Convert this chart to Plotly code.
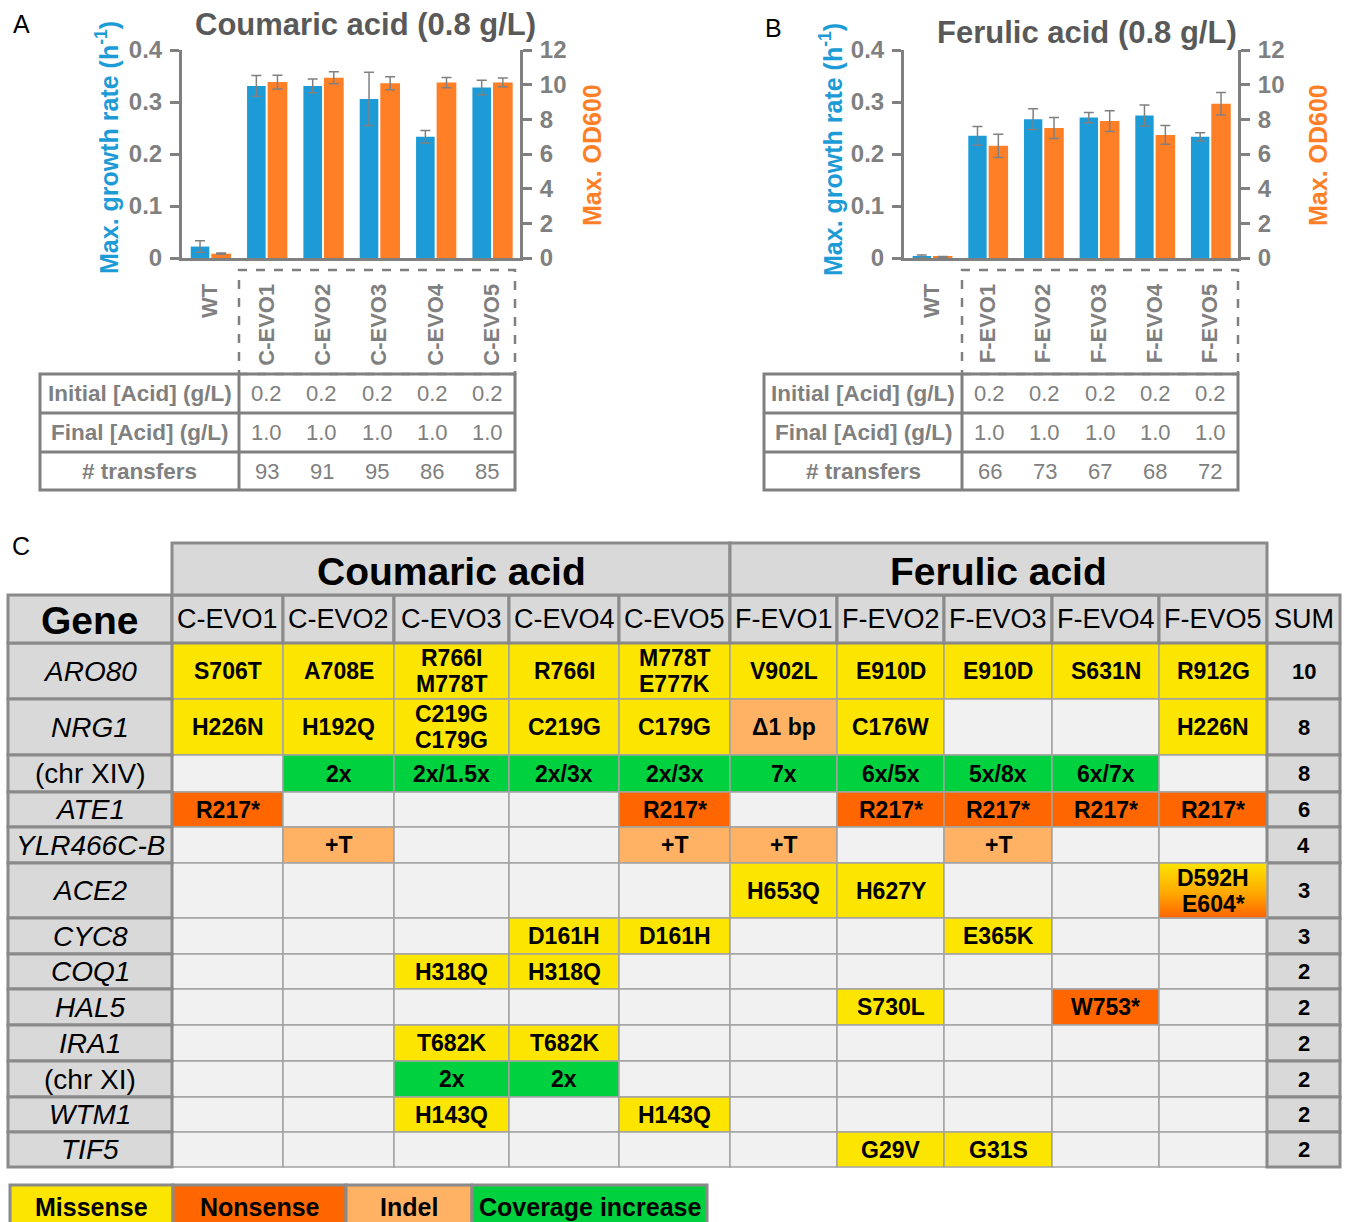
import plotly.graph_objects as go

W, H = 1349, 1222
FONT = "Liberation Sans, Arial, Helvetica, sans-serif"
BLUE = "#1C9BD6"
ORANGE = "#FF7F27"
GRAY = "#808080"
TITLE_GRAY = "#595959"

# ---------------- data: panels A / B ----------------
strains_A = ["WT", "C-EVO1", "C-EVO2", "C-EVO3", "C-EVO4", "C-EVO5"]
growth_A = [0.022, 0.331, 0.331, 0.306, 0.233, 0.328]
growth_A_err = [0.011, 0.020, 0.013, 0.051, 0.012, 0.014]
od_A = [0.25, 10.15, 10.40, 10.08, 10.12, 10.13]
od_A_err = [0.04, 0.40, 0.35, 0.38, 0.30, 0.25]

strains_B = ["WT", "F-EVO1", "F-EVO2", "F-EVO3", "F-EVO4", "F-EVO5"]
growth_B = [0.003, 0.235, 0.267, 0.270, 0.274, 0.233]
growth_B_err = [0.003, 0.018, 0.020, 0.010, 0.020, 0.008]
od_B = [0.06, 6.47, 7.50, 7.90, 7.10, 8.90]
od_B_err = [0.02, 0.67, 0.60, 0.60, 0.54, 0.65]

growth_ticks = [0, 0.1, 0.2, 0.3, 0.4]
growth_tick_labels = ["0", "0.1", "0.2", "0.3", "0.4"]
od_ticks = [0, 2, 4, 6, 8, 10, 12]
od_tick_labels = ["0", "2", "4", "6", "8", "10", "12"]

small_table_rows = ["Initial [Acid] (g/L)", "Final [Acid] (g/L)", "# transfers"]
initial_A = [0.2, 0.2, 0.2, 0.2, 0.2]
final_A = [1.0, 1.0, 1.0, 1.0, 1.0]
transfers_A = [93, 91, 95, 86, 85]
initial_B = [0.2, 0.2, 0.2, 0.2, 0.2]
final_B = [1.0, 1.0, 1.0, 1.0, 1.0]
transfers_B = [66, 73, 67, 68, 72]

# ---------------- data: panel C ----------------
groups_C = ["Coumaric acid", "Ferulic acid"]
strains_C = ["C-EVO1", "C-EVO2", "C-EVO3", "C-EVO4", "C-EVO5",
             "F-EVO1", "F-EVO2", "F-EVO3", "F-EVO4", "F-EVO5"]
genes_C = ["ARO80", "NRG1", "(chr XIV)", "ATE1", "YLR466C-B", "ACE2", "CYC8",
           "COQ1", "HAL5", "IRA1", "(chr XI)", "WTM1", "TIF5"]
gene_italic = [True, True, False, True, True, True, True, True, True, True, False, True, True]
sums_C = [10, 8, 8, 6, 4, 3, 3, 2, 2, 2, 2, 2, 2]
mut_text = [
    ["S706T", "A708E", "R766I<br>M778T", "R766I", "M778T<br>E777K", "V902L", "E910D", "E910D", "S631N", "R912G"],
    ["H226N", "H192Q", "C219G<br>C179G", "C219G", "C179G", "Δ1 bp", "C176W", "", "", "H226N"],
    ["", "2x", "2x/1.5x", "2x/3x", "2x/3x", "7x", "6x/5x", "5x/8x", "6x/7x", ""],
    ["R217*", "", "", "", "R217*", "", "R217*", "R217*", "R217*", "R217*"],
    ["", "+T", "", "", "+T", "+T", "", "+T", "", ""],
    ["", "", "", "", "", "H653Q", "H627Y", "", "", "D592H<br>E604*"],
    ["", "", "", "D161H", "D161H", "", "", "E365K", "", ""],
    ["", "", "H318Q", "H318Q", "", "", "", "", "", ""],
    ["", "", "", "", "", "", "S730L", "", "W753*", ""],
    ["", "", "T682K", "T682K", "", "", "", "", "", ""],
    ["", "", "2x", "2x", "", "", "", "", "", ""],
    ["", "", "H143Q", "", "H143Q", "", "", "", "", ""],
    ["", "", "", "", "", "", "G29V", "G31S", "", ""],
]
mut_type = [
    ["M", "M", "M", "M", "M", "M", "M", "M", "M", "M"],
    ["M", "M", "M", "M", "M", "I", "M", "", "", "M"],
    ["", "C", "C", "C", "C", "C", "C", "C", "C", ""],
    ["N", "", "", "", "N", "", "N", "N", "N", "N"],
    ["", "I", "", "", "I", "I", "", "I", "", ""],
    ["", "", "", "", "", "M", "M", "", "", "MN"],
    ["", "", "", "M", "M", "", "", "M", "", ""],
    ["", "", "M", "M", "", "", "", "", "", ""],
    ["", "", "", "", "", "", "M", "", "N", ""],
    ["", "", "M", "M", "", "", "", "", "", ""],
    ["", "", "C", "C", "", "", "", "", "", ""],
    ["", "", "M", "", "M", "", "", "", "", ""],
    ["", "", "", "", "", "", "M", "M", "", ""],
]
legend_labels = ["Missense", "Nonsense", "Indel", "Coverage increase"]
legend_types = ["M", "N", "I", "C"]

TYPE_COLORS = {"M": "#FCE500", "N": "#FF6600", "I": "#FFB263", "C": "#00D13F", "": "#F1F1F1"}

# ---------------- layout constants (pixels) ----------------
A_X = (182, 520)
B_X = (904, 1238)
CH_Y = (50, 258)
TBL_A_X = (40, 239, 515)
TBL_B_X = (764, 962, 1238)
TBL_Y = [374, 413, 452, 490]
DASH_TOP = 270
COL_C = [8, 172, 283, 394, 509, 619, 730, 837, 944, 1052, 1159, 1267, 1340]
ROW_C = [595, 643, 699, 755, 792, 827, 863, 918, 954, 989, 1025, 1061, 1097, 1132, 1167]
HDR_TOP = 543
LEG_X = [10, 173, 346, 472, 707]
LEG_Y = (1185, 1230)
LINE_GAP = 26


def px(x):
    return x / W


def py(y):
    return 1 - y / H


fig = go.Figure()


def ann(x, y, text, size, color="black", bold=False, italic=False, angle=0, xanchor="center"):
    t = text
    if italic:
        t = f"<i>{t}</i>"
    if bold:
        t = f"<b>{t}</b>"
    fig.add_annotation(x=px(x), y=py(y), xref="paper", yref="paper", text=t, showarrow=False,
                       font=dict(family=FONT, size=size, color=color), textangle=angle,
                       xanchor=xanchor, yanchor="middle")


def rect(x0, y0, x1, y1, fill=None, lc=GRAY, lw=3, dash=None, layer="below"):
    line = dict(color=lc, width=lw)
    if dash:
        line["dash"] = dash
    fig.add_shape(type="rect", xref="paper", yref="paper", x0=px(x0), x1=px(x1),
                  y0=py(y1), y1=py(y0), fillcolor=fill if fill else "rgba(0,0,0,0)",
                  line=line, layer=layer)


def hline(x0, x1, y, lc=GRAY, lw=3):
    fig.add_shape(type="line", xref="paper", yref="paper", x0=px(x0), x1=px(x1),
                  y0=py(y), y1=py(y), line=dict(color=lc, width=lw), layer="below")


def vline(x, y0, y1, lc=GRAY, lw=3):
    fig.add_shape(type="line", xref="paper", yref="paper", x0=px(x), x1=px(x),
                  y0=py(y0), y1=py(y1), line=dict(color=lc, width=lw), layer="below")


# ---------------- bar charts ----------------
def add_bars(xa, yl, yr, cats, g, ge, od, oe):
    fig.add_trace(go.Bar(x=cats, y=g, xaxis=xa, yaxis=yl, width=0.33, offset=-0.345,
                         marker=dict(color=BLUE, line=dict(width=0)), showlegend=False,
                         error_y=dict(type="data", array=ge, color=GRAY, thickness=1.5, width=5)))
    fig.add_trace(go.Bar(x=cats, y=od, xaxis=xa, yaxis=yr, width=0.35, offset=0.02,
                         marker=dict(color=ORANGE, line=dict(width=0)), showlegend=False,
                         error_y=dict(type="data", array=oe, color=GRAY, thickness=1.5, width=5)))


add_bars("x", "y", "y2", strains_A, growth_A, growth_A_err, od_A, od_A_err)
add_bars("x2", "y3", "y4", strains_B, growth_B, growth_B_err, od_B, od_B_err)

tickfont = dict(family=FONT, size=24, color=GRAY)
catfont = dict(family=FONT, size=22, color=GRAY)
ydom = [py(CH_Y[1]), py(CH_Y[0])]


def xax(dom, anchor, cats):
    return dict(domain=[px(dom[0]), px(dom[1])], anchor=anchor, type="category",
                range=[-0.5, 5.5], showline=True, linecolor=GRAY, linewidth=3, ticks="",
                tickmode="array", tickvals=cats, ticktext=[f"<b>{c}</b>" for c in cats],
                tickangle=-90, tickfont=catfont, ticklabelstandoff=14, showgrid=False,
                zeroline=False, fixedrange=True, automargin=False)


def yax(anchor, rng, vals, labels, side="left", overlaying=None):
    d = dict(domain=ydom, anchor=anchor, range=rng, side=side, showline=True,
             tickmode="array", tickvals=vals, ticktext=[f"<b>{t}</b>" for t in labels],
             linecolor=GRAY, linewidth=3, ticks="outside", ticklen=9, tickwidth=3,
             tickcolor=GRAY, tickfont=tickfont, ticklabelstandoff=3, showgrid=False,
             zeroline=False, fixedrange=True, automargin=False)
    if overlaying:
        d["overlaying"] = overlaying
    return d


# ---------------- gradient cell (ACE2 / F-EVO5) on pixel overlay axes ----------------
for ri, row in enumerate(mut_type):
    for ci, t in enumerate(row):
        if t == "MN":
            x0, x1 = COL_C[ci + 1], COL_C[ci + 2]
            y0, y1 = ROW_C[ri + 1], ROW_C[ri + 2]
            fig.add_trace(go.Scatter(
                x=[x0, x1, x1, x0, x0], y=[H - y1, H - y1, H - y0, H - y0, H - y1],
                xaxis="x3", yaxis="y5", mode="lines", line=dict(width=0), fill="toself",
                fillgradient=dict(type="vertical",
                                  colorscale=[[0, "#FF6400"], [0.45, "#FFA800"], [1, "#FCE500"]]),
                showlegend=False, hoverinfo="skip"))

fig.update_layout(
    width=W, height=H, margin=dict(l=0, r=0, t=0, b=0, pad=0, autoexpand=False),
    paper_bgcolor="white", plot_bgcolor="rgba(0,0,0,0)", barmode="overlay",
    showlegend=False,
    xaxis=xax(A_X, "y", strains_A),
    yaxis=yax("x", [0, 0.4], growth_ticks, growth_tick_labels),
    yaxis2=yax("x", [0, 12], od_ticks, od_tick_labels, side="right", overlaying="y"),
    xaxis2=xax(B_X, "y3", strains_B),
    yaxis3=yax("x2", [0, 0.4], growth_ticks, growth_tick_labels),
    yaxis4=yax("x2", [0, 12], od_ticks, od_tick_labels, side="right", overlaying="y3"),
    xaxis3=dict(domain=[0, 1], range=[0, W], visible=False, fixedrange=True, anchor="y5",
                automargin=False),
    yaxis5=dict(domain=[0, 1], range=[0, H], visible=False, fixedrange=True, anchor="x3",
                automargin=False),
)

# titles, axis titles, panel letters
ann(365, 25, "Coumaric acid (0.8 g/L)", 31, TITLE_GRAY, bold=True)
ann(1087, 33, "Ferulic acid (0.8 g/L)", 31, TITLE_GRAY, bold=True)
ann(107, 148, "Max. growth rate (h<sup>-1</sup>)", 25, BLUE, bold=True, angle=-90)
ann(592, 155, "Max. OD600", 25, ORANGE, bold=True, angle=-90)
ann(831, 150, "Max. growth rate (h<sup>-1</sup>)", 25, BLUE, bold=True, angle=-90)
ann(1318, 155, "Max. OD600", 25, ORANGE, bold=True, angle=-90)
ann(21, 24, "A", 25)
ann(773, 28, "B", 25)
ann(21, 546, "C", 25)


# ---------------- small tables A / B ----------------
def small_table(tx, cols_vals):
    xl, xd, xr = tx
    rect(xd, DASH_TOP, xr, TBL_Y[0], lc=GRAY, lw=2.5, dash="dash")
    rect(xl, TBL_Y[0], xr, TBL_Y[3], lc=GRAY, lw=3)
    hline(xl, xr, TBL_Y[1])
    hline(xl, xr, TBL_Y[2])
    vline(xd, TBL_Y[0], TBL_Y[3])
    cw = (xr - xd) / 5
    for r, (label, vals, fmt) in enumerate(zip(small_table_rows, cols_vals, ["{:.1f}", "{:.1f}", "{:d}"])):
        yc = (TBL_Y[r] + TBL_Y[r + 1]) / 2
        ann((xl + xd) / 2, yc, label, 22.5, GRAY, bold=True)
        for i, v in enumerate(vals):
            ann(xd + cw * (i + 0.5), yc, fmt.format(v), 22, GRAY)


small_table(TBL_A_X, [initial_A, final_A, transfers_A])
small_table(TBL_B_X, [initial_B, final_B, transfers_B])

# ---------------- table C ----------------
HDR_FILL = "#D9D9D9"
THIN = "#A3A3A3"
THICK = "#8A8A8A"

# data cells
for ri in range(len(genes_C)):
    y0, y1 = ROW_C[ri + 1], ROW_C[ri + 2]
    for ci in range(len(strains_C)):
        x0, x1 = COL_C[ci + 1], COL_C[ci + 2]
        t = mut_type[ri][ci]
        if t == "MN":
            rect(x0, y0, x1, y1, None, THIN, 1.5, layer="above")
        else:
            rect(x0, y0, x1, y1, TYPE_COLORS[t], THIN, 1.5)
        if mut_text[ri][ci]:
            lines = mut_text[ri][ci].split("<br>")
            yc = (y0 + y1) / 2
            for li, ln in enumerate(lines):
                ann((x0 + x1) / 2, yc + (li - (len(lines) - 1) / 2) * LINE_GAP, ln, 23,
                    "black", bold=True)

# gene column and SUM column
for ri, g in enumerate(genes_C):
    y0, y1 = ROW_C[ri + 1], ROW_C[ri + 2]
    rect(COL_C[0], y0, COL_C[1], y1, HDR_FILL, THICK, 3)
    ann((COL_C[0] + COL_C[1]) / 2, (y0 + y1) / 2, g, 28, "black", italic=gene_italic[ri])
    rect(COL_C[-2], y0, COL_C[-1], y1, HDR_FILL, THICK, 3)
    ann((COL_C[-2] + COL_C[-1]) / 2, (y0 + y1) / 2, str(sums_C[ri]), 22, "black", bold=True)

# header row of strains
rect(COL_C[0], ROW_C[0], COL_C[1], ROW_C[1], HDR_FILL, THICK, 3)
ann((COL_C[0] + COL_C[1]) / 2, (ROW_C[0] + ROW_C[1]) / 2 + 1, "Gene", 39, "black", bold=True)
for ci, s in enumerate(strains_C):
    x0, x1 = COL_C[ci + 1], COL_C[ci + 2]
    rect(x0, ROW_C[0], x1, ROW_C[1], HDR_FILL, THICK, 3)
    ann((x0 + x1) / 2, (ROW_C[0] + ROW_C[1]) / 2, s, 27, "black")
rect(COL_C[-2], ROW_C[0], COL_C[-1], ROW_C[1], HDR_FILL, THICK, 3)
ann((COL_C[-2] + COL_C[-1]) / 2, (ROW_C[0] + ROW_C[1]) / 2, "SUM", 27, "black")

# group header row
for gi, gname in enumerate(groups_C):
    x0, x1 = COL_C[1 + 5 * gi], COL_C[6 + 5 * gi]
    rect(x0, HDR_TOP, x1, ROW_C[0], HDR_FILL, THICK, 3)
    ann((x0 + x1) / 2, (HDR_TOP + ROW_C[0]) / 2 + 2, gname, 39, "black", bold=True)

# legend
for li, (lab, t) in enumerate(zip(legend_labels, legend_types)):
    x0, x1 = LEG_X[li], LEG_X[li + 1]
    rect(x0, LEG_Y[0], x1, LEG_Y[1], TYPE_COLORS[t], THICK, 3)
    ann((x0 + x1) / 2, 1207, lab, 25, "black", bold=True)

fig.write_html("out.html", config={"displayModeBar": False},
               post_script="document.body.style.margin='0';document.body.style.overflow='hidden';")
